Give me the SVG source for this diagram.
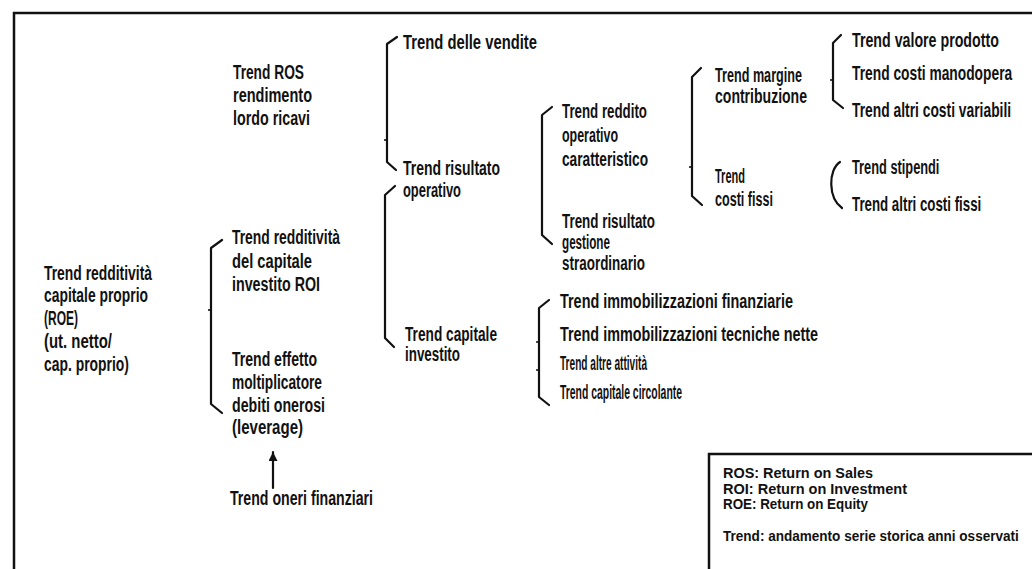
<svg xmlns="http://www.w3.org/2000/svg" width="1032" height="569" viewBox="0 0 1032 569">
<defs>
<style>
text{font-family:"Liberation Sans",Arial,sans-serif;font-weight:bold;font-size:20px;fill:#111}
.lg{font-size:15px}
.frame{fill:none;stroke:#111;stroke-width:2.5}
.br{fill:none;stroke:#111;stroke-width:2.2;stroke-linejoin:round;stroke-linecap:round}
.tk{fill:none;stroke:#111;stroke-width:1.6}
</style>
<marker id="ah" viewBox="0 0 10 10" refX="10" refY="5" markerWidth="14" markerHeight="9" orient="auto" markerUnits="userSpaceOnUse">
<path d="M0,0 L10,5 L0,10 Z" fill="#111"/>
</marker>
</defs>
<rect width="1032" height="569" fill="#fff"/>
<g id="frame">
<path class="frame" d="M14,569 L14,13 L1032,13"/>
<path class="frame" d="M709,569 L709,454 L1032,454"/>
</g>
<g id="connectors">
<path class="br" d="M222,240 L211,248 L211,404 L222,413"/>
<path class="tk" d="M208,310 L211,310"/>
<path class="br" d="M397,37 L387,44 L387,162 L396,170"/>
<path class="tk" d="M384,140 L387,140"/>
<path class="br" d="M395,186 L385,195 L385,338 L394,347"/>
<path class="br" d="M552,107 L542,115 L542,235 L552,244"/>
<path class="br" d="M701,68 L692,77 L692,196 L702,205"/>
<path class="tk" d="M689,167 L692,167"/>
<path class="br" d="M841,35 L833,43 L833,100 L843,108"/>
<path class="tk" d="M830,80 L833,80"/>
<path class="br" d="M840,162 C828,170 828,198 842,208"/>
<path class="br" d="M549,300 L539,308 L539,397 L549,405"/>
<path class="tk" d="M536,342 L539,342 M536,370 L539,370"/>
<path class="br" d="M273,488 L273,452" marker-end="url(#ah)"/>
</g>
<g id="n-roe">
<text x="44" y="280" textLength="108" lengthAdjust="spacingAndGlyphs">Trend redditività</text>
<text x="44" y="302" textLength="104" lengthAdjust="spacingAndGlyphs">capitale proprio</text>
<text x="44" y="325" textLength="34" lengthAdjust="spacingAndGlyphs">(ROE)</text>
<text x="44" y="348" textLength="68" lengthAdjust="spacingAndGlyphs">(ut. netto/</text>
<text x="44" y="371" textLength="85" lengthAdjust="spacingAndGlyphs">cap. proprio)</text>
</g>
<g id="n-ros">
<text x="233" y="79" textLength="71" lengthAdjust="spacingAndGlyphs">Trend ROS</text>
<text x="233" y="102" textLength="79" lengthAdjust="spacingAndGlyphs">rendimento</text>
<text x="233" y="125" textLength="77" lengthAdjust="spacingAndGlyphs">lordo ricavi</text>
</g>
<g id="n-roi">
<text x="232" y="244" textLength="108" lengthAdjust="spacingAndGlyphs">Trend redditività</text>
<text x="232" y="268" textLength="80" lengthAdjust="spacingAndGlyphs">del capitale</text>
<text x="232" y="291" textLength="88" lengthAdjust="spacingAndGlyphs">investito ROI</text>
</g>
<g id="n-leverage">
<text x="232" y="366" textLength="85" lengthAdjust="spacingAndGlyphs">Trend effetto</text>
<text x="232" y="389" textLength="90" lengthAdjust="spacingAndGlyphs">moltiplicatore</text>
<text x="232" y="412" textLength="93" lengthAdjust="spacingAndGlyphs">debiti onerosi</text>
<text x="232" y="434" textLength="71" lengthAdjust="spacingAndGlyphs">(leverage)</text>
</g>
<g id="n-oneri">
<text x="230" y="505" textLength="143" lengthAdjust="spacingAndGlyphs">Trend oneri finanziari</text>
</g>
<g id="n-vendite">
<text x="403" y="49" textLength="134" lengthAdjust="spacingAndGlyphs">Trend delle vendite</text>
</g>
<g id="n-risop">
<text x="403" y="175" textLength="97" lengthAdjust="spacingAndGlyphs">Trend risultato</text>
<text x="403" y="197" textLength="58" lengthAdjust="spacingAndGlyphs">operativo</text>
</g>
<g id="n-capinv">
<text x="405" y="341" textLength="92" lengthAdjust="spacingAndGlyphs">Trend capitale</text>
<text x="405" y="361" textLength="55" lengthAdjust="spacingAndGlyphs">investito</text>
</g>
<g id="n-reddop">
<text x="562" y="118" textLength="85" lengthAdjust="spacingAndGlyphs">Trend reddito</text>
<text x="562" y="142" textLength="56" lengthAdjust="spacingAndGlyphs">operativo</text>
<text x="562" y="166" textLength="86" lengthAdjust="spacingAndGlyphs">caratteristico</text>
</g>
<g id="n-straord">
<text x="562" y="228" textLength="93" lengthAdjust="spacingAndGlyphs">Trend risultato</text>
<text x="562" y="249" textLength="48" lengthAdjust="spacingAndGlyphs">gestione</text>
<text x="562" y="270" textLength="83" lengthAdjust="spacingAndGlyphs">straordinario</text>
</g>
<g id="n-margine">
<text x="715" y="82" textLength="87" lengthAdjust="spacingAndGlyphs">Trend margine</text>
<text x="715" y="103" textLength="92" lengthAdjust="spacingAndGlyphs">contribuzione</text>
</g>
<g id="n-costifissi">
<text x="715" y="183" textLength="30" lengthAdjust="spacingAndGlyphs">Trend</text>
<text x="715" y="206" textLength="58" lengthAdjust="spacingAndGlyphs">costi fissi</text>
</g>
<g id="n-valore">
<text transform="translate(852,47) scale(0.711,1)">Trend valore prodotto</text>
</g>
<g id="n-manodopera">
<text transform="translate(852,80) scale(0.69,1)">Trend costi manodopera</text>
</g>
<g id="n-variabili">
<text transform="translate(852,117) scale(0.692,1)">Trend altri costi variabili</text>
</g>
<g id="n-stipendi">
<text transform="translate(852,174) scale(0.64,1)">Trend stipendi</text>
</g>
<g id="n-altrifissi">
<text transform="translate(852,211) scale(0.665,1)">Trend altri costi fissi</text>
</g>
<g id="n-immfin">
<text x="560" y="308" textLength="233" lengthAdjust="spacingAndGlyphs">Trend immobilizzazioni finanziarie</text>
</g>
<g id="n-immtec">
<text x="560" y="341" textLength="258" lengthAdjust="spacingAndGlyphs">Trend immobilizzazioni tecniche nette</text>
</g>
<g id="n-altre">
<text x="560" y="370" textLength="87" lengthAdjust="spacingAndGlyphs">Trend altre attività</text>
</g>
<g id="n-circolante">
<text x="560" y="399" textLength="122" lengthAdjust="spacingAndGlyphs">Trend capitale circolante</text>
</g>
<g id="legend">
<text class="lg" x="723" y="478" textLength="150" lengthAdjust="spacingAndGlyphs">ROS: Return on Sales</text>
<text class="lg" x="723" y="494" textLength="184" lengthAdjust="spacingAndGlyphs">ROI: Return on Investment</text>
<text class="lg" x="723" y="509" textLength="145" lengthAdjust="spacingAndGlyphs">ROE: Return on Equity</text>
<text class="lg" transform="translate(723,541) scale(0.904,1)">Trend: andamento serie storica anni osservati</text>
</g>
</svg>
